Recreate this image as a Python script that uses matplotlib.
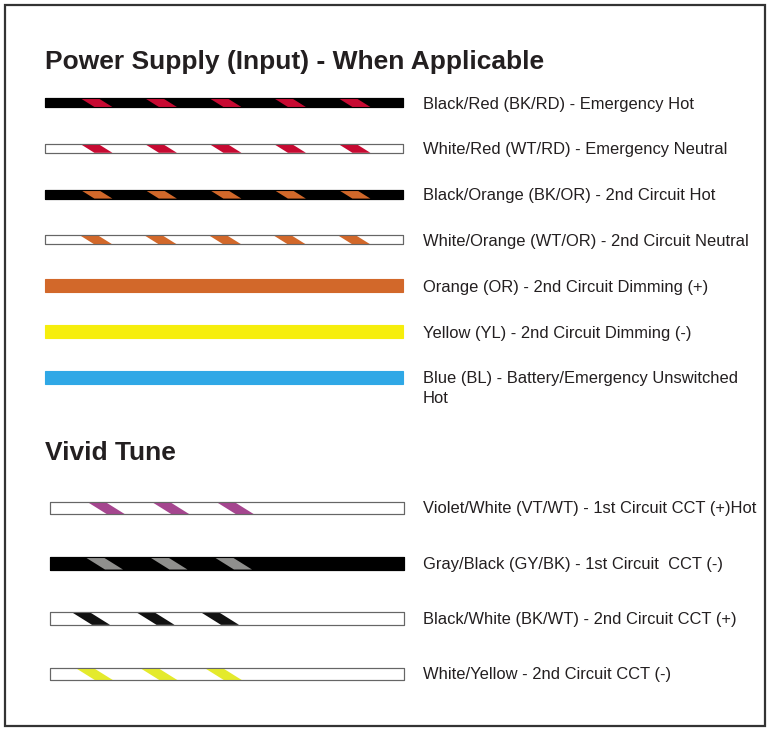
import matplotlib.pyplot as plt
from matplotlib.patches import Rectangle, Polygon

# wire legend data
power_labels = ["Black/Red (BK/RD) - Emergency Hot",
                "White/Red (WT/RD) - Emergency Neutral",
                "Black/Orange (BK/OR) - 2nd Circuit Hot",
                "White/Orange (WT/OR) - 2nd Circuit Neutral",
                "Orange (OR) - 2nd Circuit Dimming (+)",
                "Yellow (YL) - 2nd Circuit Dimming (-)",
                "Blue (BL) - Battery/Emergency Unswitched\nHot"]
power_base = ["#000000", "#ffffff", "#000000", "#ffffff", "#d2682a", "#f6ee0c", "#2fa8e6"]
power_stripe = ["#c70a32", "#c70a32", "#d2682a", "#d2682a", None, None, None]

vivid_labels = ["Violet/White (VT/WT) - 1st Circuit CCT (+)Hot",
                "Gray/Black (GY/BK) - 1st Circuit  CCT (-)",
                "Black/White (BK/WT) - 2nd Circuit CCT (+)",
                "White/Yellow - 2nd Circuit CCT (-)"]
vivid_base = ["#ffffff", "#000000", "#ffffff", "#ffffff"]
vivid_stripe = ["#a5468f", "#8f8f8d", "#111111", "#e4ea2c"]
vivid_count = [3, 3, 3, 3]

heading_1 = "Power Supply (Input) - When Applicable"
heading_2 = "Vivid Tune"

TXT = "#231f20"
plt.rcParams['font.family'] = ['Liberation Sans', 'DejaVu Sans']

fig = plt.figure(figsize=(7.68, 7.29), dpi=100)
ax = fig.add_axes([0, 0, 1, 1])
ax.set_xlim(0, 768)
ax.set_ylim(729, 0)
ax.axis('off')

ax.add_patch(Rectangle((5, 5), 760, 721, fill=False, edgecolor="#333333", lw=1.6))


def draw_wire(x0, x1, yc, h, base, stripe, offset, period, n=None):
    edge = "#666666" if base == "#ffffff" else base
    rect = Rectangle((x0, yc - h / 2), x1 - x0, h, facecolor=base, edgecolor=edge, lw=0.8, zorder=2)
    ax.add_patch(rect)
    if stripe is None:
        return
    w = 18
    slant = 1.6 * h
    k = 0
    xs = x0 + offset
    while xs < x1 and (n is None or k < n):
        top, bot = yc - h / 2, yc + h / 2
        poly = Polygon([(xs, top), (xs + w, top), (xs + w + slant, bot), (xs + slant, bot)],
                       closed=True, facecolor=stripe, edgecolor='none', zorder=3)
        ax.add_patch(poly)
        poly.set_clip_path(rect)
        xs += period
        k += 1
    # redraw outline on top
    ax.add_patch(Rectangle((x0, yc - h / 2), x1 - x0, h, fill=False, edgecolor=edge, lw=0.8, zorder=4))


ax.text(45, 62, heading_1, fontsize=19, fontweight='bold', color=TXT, va='center', ha='left')
for i, lab in enumerate(power_labels):
    yc = 102.5 + 45.8 * i
    h = 9 if power_stripe[i] else 13
    draw_wire(45, 403, yc, h, power_base[i], power_stripe[i], 35, 64.5)
    ty = yc + 1.5
    if "\n" in lab:
        ty = yc + 11
    ax.text(423, ty, lab, fontsize=11.9, color=TXT, va='center', ha='left', linespacing=1.45)

ax.text(45, 453, heading_2, fontsize=19, fontweight='bold', color=TXT, va='center', ha='left')
vivid_offset = [37, 35, 22, 25]
for i, lab in enumerate(vivid_labels):
    yc = 508 + 55.3 * i
    draw_wire(50, 404, yc, 12.5, vivid_base[i], vivid_stripe[i], vivid_offset[i], 64.5, vivid_count[i])
    ax.text(423, yc + 1, lab, fontsize=11.9, color=TXT, va='center', ha='left')

fig.savefig("out.png", dpi=100)
